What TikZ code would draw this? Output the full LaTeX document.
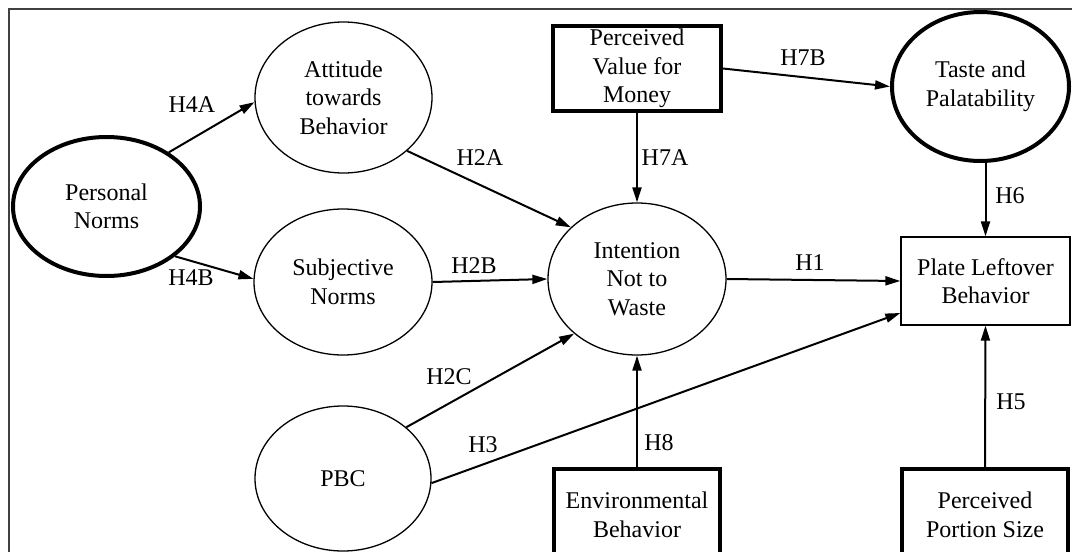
\documentclass[tikz,border=0pt]{standalone}
\usepackage{fontspec}
\setmainfont{Liberation Serif}
\usetikzlibrary{arrows.meta,shapes.geometric,calc}
\begin{document}
\begin{tikzpicture}[x=1pt,y=-1pt,
  every node/.style={font=\fontsize{24}{28.5}\selectfont, align=center, inner sep=0pt},
  thinell/.style={ellipse, draw, line width=1.3pt},
  thickell/.style={ellipse, draw, line width=4pt},
  thinbox/.style={rectangle, draw, line width=1.3pt},
  thickbox/.style={rectangle, draw, line width=4pt},
  arr/.style={line width=2pt, -{Triangle[length=15pt,width=9pt]}},
  lbl/.style={}]
\useasboundingbox (0,0) rectangle (1072,552);
\clip (0,0) rectangle (1072,552);
\fill[white] (0,0) rectangle (1072,552);
\draw[black!75, line width=1.6pt] (9,560) -- (9,9) -- (1080,9);

\node[thickell, minimum width=187pt, minimum height=139pt] (pn) at (106.5,206.5) {Personal\\Norms};
\node[thinell, minimum width=177pt, minimum height=151pt] (att) at (343.5,97.5) {Attitude\\towards\\Behavior};
\node[thinell, minimum width=178pt, minimum height=146pt] (subj) at (343,282) {Subjective\\Norms};
\node[thinell, minimum width=176pt, minimum height=145pt] (pbc) at (343,478.5) {PBC};
\node[thinell, minimum width=178pt, minimum height=152pt] (int) at (637,279) {Intention\\Not to\\Waste};
\node[thickbox, minimum width=168pt, minimum height=85pt] (pvm) at (637,68.5) {Perceived\\Value for\\Money};
\node[thickell, minimum width=177pt, minimum height=149pt] (taste) at (980.5,86.5) {Taste and\\Palatability};
\node[thinbox, minimum width=169pt, minimum height=88pt] (plate) at (985.5,281) {Plate Leftover\\Behavior};
\node[thickbox, minimum width=166pt, minimum height=92pt] (env) at (637,515) {Environmental\\Behavior};
\node[thickbox, minimum width=166pt, minimum height=92pt] (portion) at (985,515) {Perceived\\Portion Size};

\draw[arr] (pn.41) -- (att.183);
\draw[arr] (pn.-36) -- (subj.178);
\draw[arr] (att.-40) -- (int.142);
\draw[arr] (subj.east) -- (int.west);
\draw[arr] (pbc.39) -- (int.221);
\draw[arr] (pbc.-3) -- ($(plate.west)+(0,32)$);
\draw[arr] (int.east) -- (plate.west);
\draw[arr] (pvm.south) -- (int.north);
\draw[arr] (pvm.east) -- (taste.180);
\draw[arr] (plate.north |- taste.south) -- (plate.north);
\draw[arr] (env.north) -- (int.south);
\draw[arr] (portion.north) -- (plate.south);

\node[lbl] (l4a) at (192,105) {H4A};
\node[lbl] (l4b) at (191,278) {H4B};
\node[lbl] (l2a) at (480,158) {H2A};
\node[lbl] (l2b) at (474,266) {H2B};
\node[lbl] (l2c) at (449,377) {H2C};
\node[lbl] (l3) at (483,445) {H3};
\node[lbl] (l1) at (810,263) {H1};
\node[lbl] (l7a) at (665,158) {H7A};
\node[lbl] (l7b) at (803,58) {H7B};
\node[lbl] (l6) at (1010,196) {H6};
\node[lbl] (l8) at (659,443) {H8};
\node[lbl] (l5) at (1011,402) {H5};
\end{tikzpicture}
\end{document}
